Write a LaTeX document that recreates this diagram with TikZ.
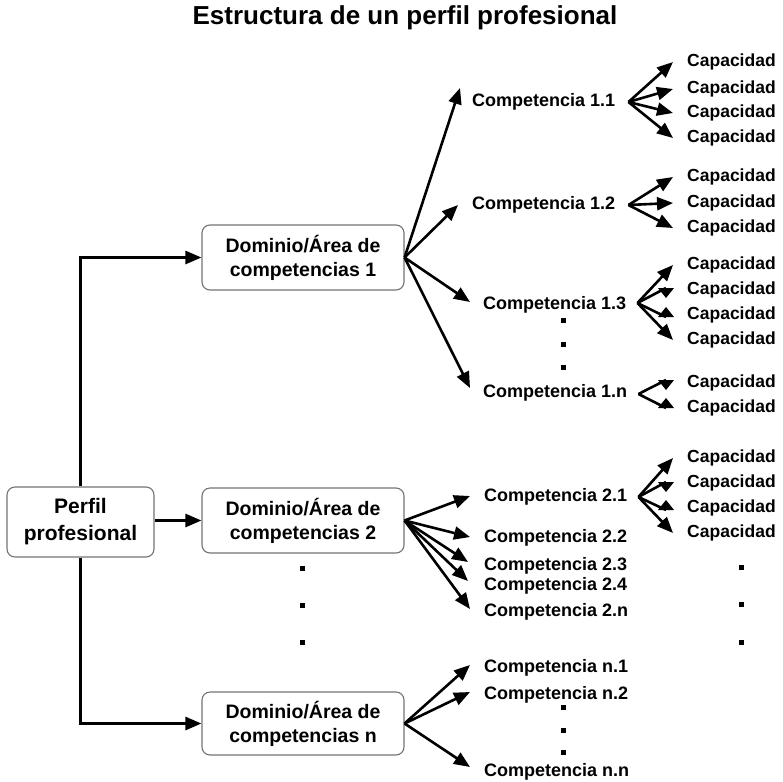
\documentclass[tikz,border=0pt]{standalone}
\usepackage{fontspec}
\setmainfont{Liberation Sans}
\usetikzlibrary{arrows.meta,calc}
\begin{document}
\begin{tikzpicture}[x=1pt,y=-1pt,
  arr/.style={-{Triangle[length=16pt,width=13pt]}, line width=2.6pt},
  link/.style={line width=2.6pt},
  box/.style={draw=black!55, line width=1.1pt, rounded corners=8pt, align=center,
    font=\bfseries\fontsize{19.5}{24}\selectfont, minimum width=202pt, minimum height=65pt, inner sep=0pt},
  comp/.style={anchor=west, inner sep=0pt, font=\bfseries\fontsize{18}{20}\selectfont},
  capa/.style={anchor=west, inner sep=0pt, font=\bfseries\fontsize{17.5}{20}\selectfont},
  dotmark/.style={fill=black, minimum size=5pt, inner sep=0pt}]
\useasboundingbox (0,0) rectangle (783,781);

% title
\node[font=\bfseries\fontsize{26}{30}\selectfont] (title) at (405,18) {Estructura de un perfil profesional};

% boxes
\node[box, minimum width=147pt, minimum height=70pt, font=\bfseries\fontsize{21}{27}\selectfont] (perfil) at (80.5,522) {Perfil\\profesional};
\node[box] (dom1) at (303,257.5) {Dominio/Área de\\competencias 1};
\node[box] (dom2) at (303,520.5) {Dominio/Área de\\competencias 2};
\node[box, minimum height=63pt] (domn) at (303,723.5) {Dominio/Área de\\competencias n};

% competencias
\node[comp] (c11) at (472,102) {Competencia 1.1};
\node[comp] (c12) at (472,205) {Competencia 1.2};
\node[comp] (c13) at (483,305) {Competencia 1.3};
\node[comp] (c1n) at (483,393) {Competencia 1.n};
\node[comp] (c21) at (484,497) {Competencia 2.1};
\node[comp] (c22) at (484,538) {Competencia 2.2};
\node[comp] (c23) at (484,566) {Competencia 2.3};
\node[comp] (c24) at (484,586) {Competencia 2.4};
\node[comp] (c2n) at (484,612) {Competencia 2.n};
\node[comp] (cn1) at (484,668) {Competencia n.1};
\node[comp] (cn2) at (484,695) {Competencia n.2};
\node[comp] (cnn) at (484,772) {Competencia n.n};

% capacidades
\foreach \n/\y in {k11a/62,k11b/89,k11c/113,k11d/138,
                   k12a/177,k12b/203,k12c/228,
                   k13a/265,k13b/290,k13c/315,k13d/340,
                   k1na/383,k1nb/408,
                   k21a/458,k21b/483,k21c/508,k21d/533}
  \node[capa] (\n) at (687,\y) {Capacidad};

% dots
\foreach \x/\y [count=\i] in {563/320,563/344,563/367,
                  302/568,302/605,302/642,
                  741/567,741/604,741/642,
                  563/707,563/730,563/752}
  \node[dotmark] (dot\i) at (\x,\y) {};

% tips of the domain arrows
\coordinate (t11) at (460,88);
\coordinate (t12) at (458,205);
\coordinate (t13) at (470,302);
\coordinate (t1n) at (470,388);
\coordinate (t21) at (470,496);
\coordinate (t22) at (470,537);
\coordinate (t23) at (468,562);
\coordinate (t24) at (468,581);
\coordinate (t2n) at (470,609);
\coordinate (tn1) at (470,665);
\coordinate (tn2) at (470,692);
\coordinate (tnn) at (470,767);

% origins of the capacidad arrows
\coordinate (o11) at ($(c11.east)+(13,0)$);
\coordinate (o12) at ($(c12.east)+(13,0)$);
\coordinate (o13) at ($(c13.east)+(11,-2)$);
\coordinate (o1n) at ($(c1n.east)+(11,1)$);
\coordinate (o21) at ($(c21.east)+(11,0)$);

% perfil -> dominios
\draw[arr] (perfil.north) |- (dom1.west);
\draw[arr] (perfil.east |- dom2.west) -- (dom2.west);
\draw[arr] (perfil.south) |- (domn.west);

% dominios -> competencias
\foreach \t in {t11,t12,t13,t1n} \draw[arr] (dom1.east) -- (\t);
\foreach \t in {t21,t22,t23,t24,t2n} \draw[arr] (dom2.east) -- (\t);
\foreach \t in {tn1,tn2,tnn} \draw[arr] (domn.east) -- (\t);

% competencias -> capacidades
\foreach \k in {k11a,k11b,k11c,k11d}
  \draw[arr] (o11) -- ($(\k.west)+(-14,0)$);
\foreach \k in {k12a,k12b,k12c}
  \draw[arr] (o12) -- ($(\k.west)+(-14,0)$);

% hourglass-shaped short arrows: base centre and tip of each head
\foreach \o/\k/\b/\t in {o13/k13b/-2/8, o13/k13c/2/-8,
                         o1n/k1na/-3/7, o1n/k1nb/0/-10,
                         o21/k21b/-1/9, o21/k21c/2/-8}{
  \coordinate (hb) at ($(\k.west)+(-21,\b)$);
  \coordinate (ht) at ($(\k.west)+(-21,\t)$);
  \draw[link] (\o) -- (hb);
  \fill ($(hb)+(-8,0)$) -- ($(hb)+(8,0)$) -- (ht) -- cycle;
}
\draw[arr] (o13) -- ($(k13a.west)+(-14,0)$);
\draw[arr] (o13) -- ($(k13d.west)+(-14,0)$);
\draw[arr] (o21) -- ($(k21a.west)+(-14,0)$);
\draw[arr] (o21) -- ($(k21d.west)+(-14,0)$);
\end{tikzpicture}
\end{document}
